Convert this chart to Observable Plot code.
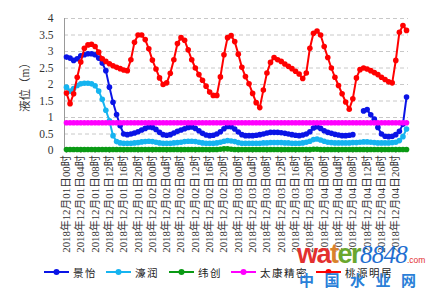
<!DOCTYPE html>
<html><head><meta charset="utf-8">
<script src="https://cdn.jsdelivr.net/npm/d3@7"></script>
<script src="https://cdn.jsdelivr.net/npm/@observablehq/plot@0.6"></script>
<style>
body{margin:0;background:#fff;}
#wrap{position:relative;width:427px;height:296px;overflow:hidden;background:#fff;font-family:"Liberation Serif","Noto Sans CJK SC",serif;}
#chart{position:absolute;left:0;top:0;}
.lg{position:absolute;top:263px;height:18px;display:flex;align-items:center;font-family:"Noto Sans CJK SC",sans-serif;font-size:10.5px;letter-spacing:1.5px;color:#222;white-space:nowrap;}
.lg svg{margin-right:4px;}
#wm1{position:absolute;left:297px;top:239px;font-family:"Liberation Sans",Arial,sans-serif;font-weight:bold;font-size:27px;letter-spacing:-1.5px;white-space:nowrap;line-height:30px;}
#wm2{position:absolute;left:299px;top:271px;font-family:"Noto Sans CJK SC",sans-serif;font-weight:bold;font-size:15px;letter-spacing:10.5px;color:#2a7fd8;white-space:nowrap;line-height:18px;}
</style></head><body>
<div id="wrap"><div id="chart"></div><div id="legend"></div>
<div id="wm1"><span style="color:#e3302f">wa</span><span style="color:#d9822b">t</span><span style="color:#6aa72e">er</span><span style="color:#1f6fd1;font-family:'Liberation Serif',serif;font-style:italic;font-weight:normal;font-size:25px;letter-spacing:-0.8px">8848</span><span style="color:#e3302f;font-size:8.5px;font-weight:normal;letter-spacing:0">.com</span></div>
<div id="wm2">中国水业网</div>
</div>
<script>
const days = ["01", "02", "03", "04"];
const hours = d3.range(24).map(h => String(h).padStart(2, "0"));
const times = days.flatMap(d => hours.map(h => `2018年12月${d}日${h}时`));
const tickLabels = times.filter((_, i) => i % 4 === 0);
const yTicks = [0, 0.5, 1, 1.5, 2, 2.5, 3, 3.5, 4];

const seriesNames = ["景怡", "濠润", "纬创", "太康精密", "桃源明居"];
const seriesColors = ["#0a14e6", "#16b4f0", "#0a9a14", "#ff00ff", "#ff0000"];

const jingyi = [2.83,2.8,2.73,2.78,2.87,2.9,2.93,2.93,2.9,2.8,2.65,2.42,1.92,1.46,1.09,0.75,
0.5,0.48,0.5,0.53,0.57,0.62,0.67,0.71,0.7,0.64,0.55,0.48,0.46,0.48,0.53,0.58,
0.62,0.66,0.7,0.71,0.67,0.6,0.52,0.47,0.45,0.46,0.5,0.57,0.66,0.73,0.72,0.65,
0.56,0.48,0.45,0.45,0.45,0.46,0.48,0.5,0.53,0.55,0.55,0.55,0.54,0.52,0.5,0.48,
0.46,0.45,0.47,0.5,0.57,0.68,0.72,0.67,0.6,0.55,0.52,0.49,0.47,0.45,0.45,0.46,
0.48,null,null,1.2,1.24,1.08,0.95,0.7,0.5,0.43,0.42,0.43,0.48,0.58,0.8,1.62];

const haorun = [1.92,1.8,1.88,1.97,2.02,2.04,2.04,2.02,1.96,1.8,1.55,1.22,0.9,0.45,0.27,0.23,
0.22,0.22,0.22,0.23,0.24,0.26,0.27,0.28,0.27,0.25,0.23,0.22,0.22,0.22,0.23,0.24,
0.25,0.27,0.28,0.28,0.27,0.25,0.23,0.22,0.22,0.22,0.23,0.25,0.28,0.3,0.29,0.27,
0.24,0.22,0.22,0.22,0.22,0.22,0.22,0.23,0.23,0.24,0.24,0.24,0.24,0.23,0.23,0.22,
0.22,0.22,0.23,0.25,0.28,0.33,0.35,0.32,0.28,0.25,0.24,0.23,0.23,0.23,0.23,0.23,
0.24,0.24,0.25,0.26,0.26,0.25,0.24,0.23,0.23,0.23,0.23,0.24,0.25,0.3,0.42,0.65];

const weichuang = [0.03,0.03,0.03,0.03,0.03,0.03,0.03,0.03,0.03,0.03,0.03,0.03,0.03,0.03,0.03,0.03,
0.03,0.03,0.03,0.03,0.03,0.03,0.03,0.03,0.03,0.03,0.03,0.03,0.03,0.03,0.03,0.03,
0.03,0.03,0.03,0.03,0.03,0.03,0.03,0.03,0.03,0.03,0.03,0.04,0.05,0.05,0.04,0.03,
0.03,0.03,0.03,0.03,0.03,0.03,0.03,0.03,0.03,0.03,0.03,0.03,0.03,0.03,0.03,0.03,
0.03,0.03,0.03,0.03,0.03,0.04,0.04,0.03,0.03,0.03,0.03,0.03,0.03,0.03,0.03,0.03,
0.03,0.03,0.03,0.03,0.03,0.03,0.03,0.03,0.03,0.03,0.03,0.03,0.03,0.03,0.03,0.03];

const taikang = [0.84,0.84,0.84,0.84,0.84,0.84,0.84,0.84,0.84,0.84,0.84,0.84,0.84,0.84,0.84,0.84,
0.84,0.84,0.84,0.84,0.84,0.84,0.84,0.84,0.84,0.84,0.84,0.84,0.84,0.84,0.84,0.84,
0.84,0.84,0.84,0.84,0.84,0.84,0.84,0.84,0.84,0.84,0.84,0.84,0.84,0.84,0.84,0.84,
0.84,0.84,0.84,0.84,0.84,0.84,0.84,0.84,0.84,0.84,0.84,0.84,0.84,0.84,0.84,0.84,
0.84,0.84,0.84,0.84,0.84,0.84,0.84,0.84,0.84,0.84,0.84,0.84,0.84,0.84,0.84,0.84,
0.84,0.84,0.84,0.84,0.84,0.84,0.84,0.84,0.84,0.84,0.84,0.84,0.84,0.84,0.84,0.84];

const taoyuan = [1.74,1.42,1.72,2.22,2.68,3.1,3.2,3.22,3.15,2.98,2.78,2.7,2.63,2.57,2.52,2.48,
2.44,2.42,2.75,3.28,3.5,3.5,3.36,3.08,2.74,2.47,2.2,2.0,2.05,2.34,2.75,3.24,
3.42,3.34,3.05,2.75,2.5,2.3,2.13,1.95,1.77,1.67,1.67,2.23,2.9,3.42,3.48,3.3,
2.92,2.52,2.24,2.02,1.73,1.45,1.3,1.83,2.35,2.67,2.82,2.75,2.7,2.62,2.55,2.48,
2.4,2.32,2.18,2.35,3.1,3.55,3.62,3.5,3.15,2.82,2.5,2.22,1.97,1.72,1.47,1.25,
1.57,2.2,2.45,2.5,2.47,2.42,2.36,2.3,2.22,2.15,2.08,2.05,2.73,3.58,3.79,3.64];

const seriesValues = [jingyi, haorun, weichuang, taikang, taoyuan];

const seriesMarks = seriesNames.flatMap((name, s) => {
  const rows = seriesValues[s].map((v, i) => ({time: times[i], value: v == null ? NaN : v}));
  return [
    Plot.line(rows, {x: "time", y: "value", stroke: seriesColors[s], strokeWidth: 2}),
    Plot.dot(rows, {x: "time", y: "value", fill: seriesColors[s], r: 2.8, stroke: "none"})
  ];
});

const chart = Plot.plot({
  width: 427, height: 262,
  marginTop: 18, marginBottom: 112, marginLeft: 64, marginRight: 19,
  style: {fontFamily: '"Liberation Serif","Noto Sans CJK SC",serif', fontSize: "10px", color: "#333", background: "#fff"},
  x: {type: "point", domain: times, padding: 0.55},
  y: {domain: [0, 4]},
  marks: [
    Plot.gridY(yTicks, {stroke: "#c8c8c8", strokeOpacity: 1, strokeDasharray: "4,3"}),
    Plot.axisY(yTicks, {tickSize: 0, tickPadding: 11, fontSize: 11.5, tickFormat: d => String(d), label: "液位（m）", labelAnchor: "center", labelOffset: 44, labelArrow: "none"}),
    Plot.axisX(tickLabels, {tickRotate: -90, tickSize: 3, tickPadding: 2, fontSize: 10.8, label: null, stroke: "#999"}),
    Plot.frame({anchor: "left", stroke: "#999"}),
    ...seriesMarks
  ]
});
document.getElementById("chart").appendChild(chart);

const legendLeft = [44, 106, 169, 231, 316];
const legend = document.getElementById("legend");
seriesNames.forEach((name, s) => {
  const item = document.createElement("div");
  item.className = "lg";
  item.style.left = legendLeft[s] + "px";
  item.innerHTML = `<svg width="25" height="10"><line x1="0" y1="5" x2="25" y2="5" stroke="${seriesColors[s]}" stroke-width="2"/><circle cx="12.5" cy="5" r="3" fill="${seriesColors[s]}"/></svg><span>${name}</span>`;
  legend.appendChild(item);
});
</script>
</body></html>
